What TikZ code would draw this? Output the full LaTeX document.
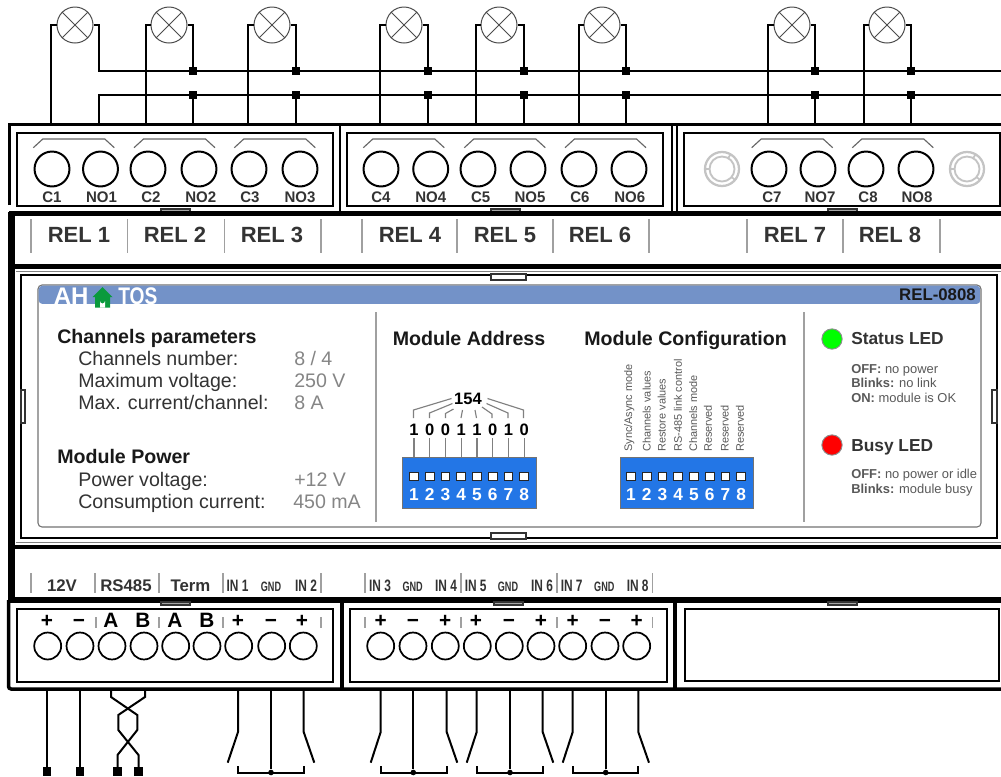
\documentclass[tikz,border=0pt]{standalone}
\usepackage{fontspec}
\usepackage{graphicx}
\setmainfont{Liberation Sans}
\usetikzlibrary{shapes.geometric}
\definecolor{hdr}{HTML}{7392C8}
\definecolor{dip}{HTML}{2376E6}
\definecolor{txt}{HTML}{333333}
\definecolor{val}{HTML}{858585}
\definecolor{sep}{HTML}{A0A0A0}
\definecolor{gpart}{HTML}{C4C4C4}
\definecolor{housegreen}{HTML}{0A9A3C}
\newcommand{\nar}[2]{\scalebox{#1}[1]{#2}}
\tikzset{
  x=0.75pt,y=-0.75pt,
  wire/.style={draw=black,line width=1.5pt,line join=miter},
  bar/.style={draw=black,line width=#1*0.75pt},
  lamp/.style={circle,draw=black!70,line width=.75pt,fill=white,minimum size=27pt,inner sep=0pt},
  lampx/.style={draw=black!70,line width=.7pt},
  term/.style={circle,draw=black,line width=1.5pt,fill=white,minimum size=26.2pt,inner sep=0pt},
  termb/.style={circle,draw=black,line width=1.3pt,fill=white,minimum size=20.2pt,inner sep=0pt},
  junc/.style={rectangle,fill=black,minimum size=5.6pt,inner sep=0pt},
  foot/.style={rectangle,fill=black,minimum size=6.6pt,inner sep=0pt},
  dot/.style={circle,fill=black,minimum size=4.2pt,inner sep=0pt},
  sepl/.style={draw=sep,line width=1.2pt},
  contact/.style={draw=black!60,line width=.85pt},
  tab/.style={draw=black!80,line width=.8pt,fill=black!35},
  tabw/.style={draw=black!80,line width=1pt,fill=white},
  rel/.style={inner sep=0pt,anchor=base,text=txt,font=\fontsize{16.5pt}{18pt}\selectfont\bfseries},
  tl/.style={inner sep=0pt,anchor=base,text=txt,font=\fontsize{11.5pt}{12pt}\selectfont\bfseries},
  sl/.style={inner sep=0pt,anchor=base,text=txt,font=\fontsize{12.6pt}{14pt}\selectfont\bfseries},
  inl/.style={inner sep=0pt,anchor=base,text=txt,font=\fontsize{12.4pt}{13pt}\selectfont\bfseries},
  gndl/.style={inner sep=0pt,anchor=base,text=txt,font=\fontsize{10.2pt}{12pt}\selectfont\bfseries},
  pl/.style={inner sep=0pt,anchor=base,text=black,font=\fontsize{15.6pt}{16pt}\selectfont\bfseries},
  headt/.style={inner sep=0pt,anchor=base west,text=black!90,font=\fontsize{14.7pt}{16pt}\selectfont\bfseries},
  rowt/.style={inner sep=0pt,anchor=base west,text=txt,font=\fontsize{14.7pt}{16pt}\selectfont},
  valt/.style={inner sep=0pt,anchor=base west,text=val,font=\fontsize{14.7pt}{16pt}\selectfont},
  ledt/.style={inner sep=0pt,anchor=base west,text=txt,font=\fontsize{13pt}{16pt}\selectfont\bfseries},
  smt/.style={inner sep=0pt,anchor=base west,text=black!65,font=\fontsize{9.7pt}{12pt}\selectfont},
  led/.style={circle,draw=black!45,line width=.7pt,minimum size=15.2pt,inner sep=0pt},
  dipbox/.style={rectangle,draw=black!55,line width=.6pt,fill=dip,inner sep=0pt},
  dipsw/.style={rectangle,draw=black!85,line width=.7pt,fill=white,minimum size=6.6pt,inner sep=0pt},
  dipn/.style={inner sep=0pt,anchor=base,text=white,font=\fontsize{13pt}{14pt}\selectfont\bfseries},
  bitn/.style={inner sep=0pt,anchor=base,text=black,font=\fontsize{12.4pt}{14pt}\selectfont\bfseries},
  bitl/.style={draw=black!50,line width=.85pt},
  cfgt/.style={inner sep=0pt,anchor=west,rotate=90,text=black!65,font=\fontsize{8.2pt}{10pt}\selectfont},
}
\begin{document}
\begin{tikzpicture}
\useasboundingbox (0,0) rectangle (1001,776);
\fill[white] (0,0) rectangle (1001,776);

% ---- lamps, rails
\coordinate (rs1) at (99,71); \coordinate (rs2) at (99,95);
\coordinate (re1) at (1001,71); \coordinate (re2) at (1001,95);
\coordinate (hr1) at (99,124);
\foreach \n/\c/\l/\r in {1/75/51/99,2/169/146/193,3/272/248/296,4/404/380/428,5/499/476/524,6/602/579/626,7/792/768/815,8/887/864/911}{
  \node[lamp] (lamp\n) at (\c,25) {};
  \draw[lampx] (lamp\n.north west) -- (lamp\n.south east) (lamp\n.north east) -- (lamp\n.south west);
  \coordinate (hl\n) at (\l,124);
  \draw[wire] (lamp\n.west) -| (hl\n);
}
\foreach \n/\r in {2/193,3/296,4/428,5/524,6/626,7/815,8/911}{
  \node[junc] (ja\n) at (\r,71) {};
  \node[junc] (jb\n) at (\r,95) {};
  \coordinate (hr\n) at (\r,124);
  \draw[wire] (lamp\n.east) -| (ja\n);
  \draw[wire] (jb\n) -- (hr\n);
}
\draw[wire] (lamp1.east) -| (rs1) -- (re1);
\draw[wire] (hr1) -- (rs2) -- (re2);

% ---- housing
\draw[bar=3] (9.5,205) -- (9.5,124) -- (1001,124);
\draw[bar=2] (340,124) -- (340,212);
\draw[bar=2] (672,124) -- (672,212);
\draw[bar=2] (676.5,124) -- (676.5,212);
\draw[bar=2] (17,133) rectangle (333,206);
\draw[bar=2] (347,133) rectangle (663,206);
\draw[bar=2] (684,133) rectangle (1000,206);
\foreach \a in {161,491,828}{ \draw[tab] (\a,209) rectangle (\a+29,212); }
\draw[bar=5] (9,213.5) -- (1001,213.5);
\draw[bar=6.5] (11.5,212) -- (11.5,603);
\draw[bar=4.5] (15,266.5) -- (1001,266.5);
\draw[bar=4.5] (15,547) -- (1001,547);
\draw[bar=6] (9,600) -- (1001,600);

% ---- module panel
\draw[draw=black!50,line width=.6pt] (16,271) -- (1001,271) (16,542.5) -- (1001,542.5);
\draw[bar=2] (21,275) rectangle (997,538);
\draw[tabw] (491,274) rectangle (526,280);
\draw[tabw] (491,533) rectangle (526,539);
\draw[tabw] (21,390) rectangle (25,423);
\draw[tabw] (992,390) rectangle (997,423);
\draw[draw=black!55,line width=.8pt,fill=white,rounded corners=3pt] (38,285) rectangle (981,527);
\begin{scope}
  \path[clip,rounded corners=3pt] (38.6,285.6) -- (980.4,285.6) -- (980.4,304) -- (38.6,304) -- cycle;
  \fill[hdr] (38,285) rectangle (981,304);
  \begin{scope}
    \path[clip] (38,287) rectangle (981,304);
    \node[inner sep=0pt,anchor=base west,text=white,font=\fontsize{18pt}{18pt}\selectfont\bfseries] (logoa) at (53.5,304) {AH};
    \node[inner sep=0pt,anchor=base west,text=white,font=\fontsize{18pt}{18pt}\selectfont\bfseries] (logob) at (118,304) {\nar{.8}{TOS}};
  \end{scope}
\end{scope}
\fill[housegreen] (102.5,287) -- (112.5,297) -- (110,297) -- (110,307.5) -- (95,307.5) -- (95,297) -- (92.5,297) -- cycle;
\fill[white] (100,307.5) -- (100,301) arc[start angle=180,end angle=0,radius=2.5] -- (105,307.5) -- cycle;
\node[inner sep=0pt,anchor=base east,text=black!90,font=\fontsize{12.6pt}{14pt}\selectfont\bfseries] (model) at (976,300.5) {REL-0808};

\node[headt] (chp) at (57,343) {Channels parameters};
\node[rowt] (r1) at (78,365) {Channels number:};
\node[rowt] (r2) at (78,387) {Maximum voltage:};
\node[rowt] (r3) at (78,409) {Max. current/channel:};
\node[valt] (v1) at (294,365) {8 / 4};
\node[valt] (v2) at (294,387) {250 V};
\node[valt] (v3) at (294,409) {8 A};
\node[headt] (mpw) at (57,463) {Module Power};
\node[rowt] (r4) at (78,486) {Power voltage:};
\node[rowt] (r5) at (78,508) {Consumption current:};
\node[valt] (v4) at (294,486) {+12 V};
\node[valt] (v5) at (293,508) {450 mA};

\draw[sep,line width=1.4pt] (376,312) -- (376,522);
\draw[sep,line width=1.4pt] (804,312) -- (804,522);

\node[headt] (maddr) at (392.5,345) {Module Address};
\node[headt] (mcfg) at (584,345) {Module Configuration};

% dip switches
\node[dipbox,minimum width=100.5pt,minimum height=38.2pt] (dipa) at (469,482.5) {};
\node[dipbox,minimum width=99.7pt,minimum height=38.2pt] (dipb) at (686.5,482.5) {};
\foreach \i/\b in {1/1,2/0,3/0,4/1,5/1,6/0,7/1,8/0}{
  \pgfmathsetmacro{\xa}{414+(\i-1)*15.75}
  \pgfmathsetmacro{\xb}{631+(\i-1)*15.75}
  \node[dipsw] (sa\i) at (\xa,476.5) {};
  \node[dipsw] (sb\i) at (\xb,476.5) {};
  \node[dipn] (na\i) at (\xa,500) {\i};
  \node[dipn] (nb\i) at (\xb,500) {\i};
  \node[bitn] (bit\i) at (\xa,435) {\b};
  \coordinate (bt\i) at (\xa,438);
  \coordinate (bb\i) at (\xa,457);
  \draw[bitl] (bt\i) -- (bb\i);
}
% address brackets
\node[inner sep=0pt,anchor=base,text=black,font=\fontsize{12.4pt}{14pt}\selectfont\bfseries] (addr) at (468,404) {154};
\draw[bitl] (413.5,418) -- (413.5,410) -- (451.5,398.5);
\draw[bitl] (429.5,418) -- (429.5,413) -- (452.5,403.5);
\draw[bitl] (445.5,418) -- (445.5,413.5) -- (453.5,409);
\draw[bitl] (461,418) -- (462.5,410);
\draw[bitl] (476.5,418) -- (475,410);
\draw[bitl] (492,418) -- (492,414) -- (482,407);
\draw[bitl] (508,418) -- (508,413) -- (486.5,403.5);
\draw[bitl] (523.5,418) -- (523.5,410) -- (487.5,398.5);

% rotated config labels
\foreach \c/\t in {629.3/Sync\slash Async mode,646.7/Channels values,661.7/Restore values,678/RS-485 link control,693.3/Channels mode,708/Reserved,724.7/Reserved,740/Reserved}{
  \node[cfgt] at (\c,452) {\t};
}

% LEDs
\node[led,fill=green] (led1) at (832,339) {};
\node[led,fill=red] (led2) at (832,445) {};
\node[ledt] (s1) at (851,344) {Status LED};
\node[ledt] (s2) at (851,451) {Busy LED};
\node[smt] (a1) at (851,373) {\textbf{OFF:} no power};
\node[smt] (a2) at (851,387) {\textbf{Blinks:} no link};
\node[smt] (a3) at (851,402) {\textbf{ON:} module is OK};
\node[smt] (b1) at (851,478) {\textbf{OFF:} no power or idle};
\node[smt] (b2) at (851,493) {\textbf{Blinks:} module busy};

% ---- top terminals
\foreach \n/\c in {1/52,2/100.5,3/148,4/199,5/249,6/300,7/381,8/430.7,9/478,10/528,11/579,12/629,13/769,14/818,15/866,16/916}{
  \node[term] (tt\n) at (\c,169) {};
}
\foreach \t/\c in {C1/52,NO1/101.5,C2/151,NO2/200.7,C3/250,NO3/300,C4/381,NO4/430.7,C5/480.7,NO5/530,C6/580,NO6/629.7,C7/772,NO7/820,C8/868,NO8/917}{
  \node[tl] at (\c,202) {\nar{.98}{\t}};
}
\foreach \a in {33.3,134,234.3,363.3,464.3,565,751.7,852.3}{
  \draw[contact] (\a,147.7) -- (\a+9.5,139) -- (\a+71.5,139) -- (\a+81,147.7);
}
\foreach \n/\c in {a/722,b/967}{
  \coordinate (sc\n) at (\c,169);
  \draw[gpart,line width=1.7pt] (sc\n) circle[radius=17];
  \draw[gpart,line width=1.4pt] (sc\n) circle[radius=12.5];
  \foreach \ang in {180,40,-60}{
    \draw[gpart,line width=1.3pt] (\c,169) ++(\ang:12.5 and 12.5) -- ++(\ang:4.5 and 4.5);
  }
}

% ---- REL labels
\foreach \t/\c in {REL 1/79,REL 2/175,REL 3/272,REL 4/410,REL 5/505,REL 6/600,REL 7/795,REL 8/890}{
  \node[rel] at (\c,242) {\t};
}
\foreach \c in {31,127.5,224.5,321,362,457,553,649,747,843,940}{
  \draw[sepl] (\c,219) -- (\c,253);
}

% ---- lower label row
\node[sl] (l12) at (62,591) {12V};
\node[sl] (lrs) at (126,591) {RS485};
\node[sl] (ltm) at (190.5,591) {Term};
\foreach \t/\c in {IN 1/237.5,IN 2/306,IN 3/380,IN 4/446,IN 5/475.7,IN 6/542,IN 7/571.7,IN 8/637.7}{
  \node[inl] at (\c,591) {\nar{.72}{\t}};
}
\foreach \c in {271,412.7,508,604.3}{
  \node[gndl] at (\c,591) {\nar{.67}{GND}};
}
\foreach \c in {31,95,158.7,222.7,320.7,365,461,556.7,652.3}{
  \draw[sepl] (\c,573) -- (\c,593);
}

% ---- bottom blocks
\draw[bar=3.5] (8.5,600) -- (8.5,684) [rounded corners=2pt] -- (8.5,689) -- (1001,689);
\draw[bar=3.5] (342,600) -- (342,689);
\draw[bar=3.5] (675,600) -- (675,689);
\draw[bar=2] (17,609) rectangle (333,682);
\draw[bar=2] (350,609) rectangle (667,682);
\draw[bar=2] (685,609) rectangle (999,681);
\foreach \a in {161,494,828}{ \draw[tab] (\a,602) rectangle (\a+29,605); }

\foreach \n/\c in {1/47.7,2/80,3/112,4/144,5/175.7,6/207,7/238.7,8/271.7,9/303.3,10/380.7,11/413,12/445.3,13/477.3,14/509.3,15/541,16/572.7,17/605,18/636.7}{
  \node[termb] (tb\n) at (\c,646) {};
}
\foreach \t/\c in {+/47,−/79,A/111,B/143,A/175,B/207,+/238,−/271,+/302,+/380.7,−/413,+/445.3,+/476,−/509,+/541,+/572.7,−/605,+/636.7}{
  \node[pl] at (\c,627.7) {\t};
}
\foreach \c in {95.7,159,223,320.7,365,461,556.7,652.3}{
  \draw[sepl] (\c,617) -- (\c,628);
}

% ---- power wires
\foreach \n/\c in {1/47,2/80}{
  \coordinate (pw\n) at (\c,690);
  \node[foot] (pf\n) at (\c,771.5) {};
  \draw[wire] (pw\n) -- (pf\n);
}
% ---- twisted pair
\coordinate (ta) at (111,690); \coordinate (tb) at (145,690);
\node[foot] (fa) at (117.5,771.5) {};
\node[foot] (fb) at (138.5,771.5) {};
\draw[wire] (ta) -- (111,697) -- (137.3,715) -- (137.3,730) -- (117.5,755) -- (fa);
\draw[wire] (tb) -- (145,697) -- (118.3,715) -- (118.3,730) -- (138.5,755) -- (fb);

% ---- input switches
\foreach \n/\l/\lt/\g/\r/\rt in {a/238/227.7/271/303.7/314.3,b/380.7/370.7/413.3/446.7/457.3,c/476.7/466.7/510/542.7/553.3,d/572.7/562.7/605.7/638.3/649}{
  \coordinate (swl\n) at (\l,690);
  \coordinate (swr\n) at (\r,690);
  \coordinate (swg\n) at (\g,690);
  \node[dot] (gd\n) at (\g,772.5) {};
  \draw[wire] (swl\n) -- (\l,732) -- (\lt,762.7);
  \draw[wire] (swr\n) -- (\r,732) -- (\rt,762.7);
  \draw[wire] (swg\n) -- (gd\n);
  \draw[wire] (\l,766) -- (\l,772.5) -- (gd\n.center) -- (\r,772.5) -- (\r,766);
}
\end{tikzpicture}
\end{document}
